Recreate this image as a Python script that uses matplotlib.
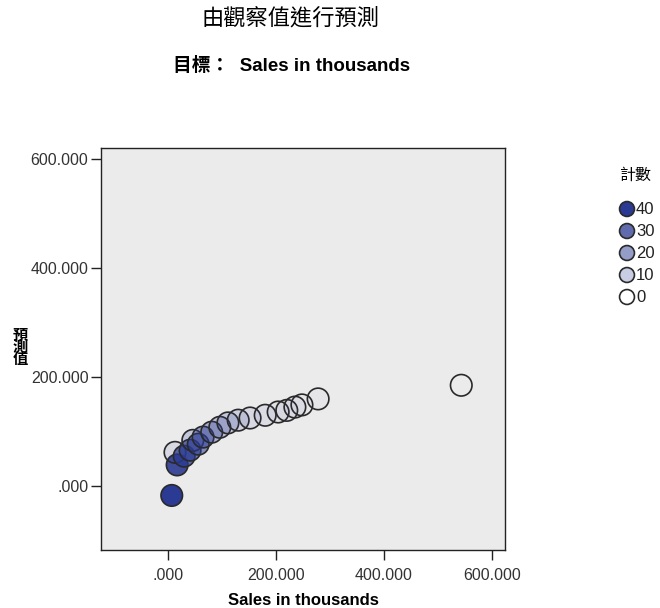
import numpy as np
import matplotlib
matplotlib.use("Agg")
import matplotlib.pyplot as plt
from matplotlib.colors import to_rgba

plt.rcParams['font.family'] = ['Liberation Sans', 'Noto Sans CJK TC', 'DejaVu Sans']

# observed sales, predicted value, count per point
observed = [7, 17, 13, 30, 41, 46, 56, 65, 81, 96, 111, 130, 152, 180, 204, 220, 235, 248, 278, 543]
predicted = [-17, 39, 62, 55, 66, 84, 77, 90, 99, 108, 116, 121, 125, 130, 136, 139, 145, 149, 160, 185]
counts = [40, 36, 4, 30, 26, 8, 22, 18, 14, 10, 8, 6, 4, 3, 2, 2, 2, 1, 1, 0]

legend_counts = [40, 30, 20, 10, 0]
x_ticks = [0, 200, 400, 600]
y_ticks = [0, 200, 400, 600]

blue = "#2b3a93"
edge = "#2a2a2a"

def fill(c):
    # count sets the opacity of the blue fill
    return to_rgba(blue, c / 40)

fig = plt.figure(figsize=(6.6, 6.08), dpi=100)
ax = fig.add_axes([101/660, 58/608, 404/660, 402/608])
ax.set_facecolor("#ebebeb")

ax.scatter(observed, predicted, s=240, facecolors=[fill(c) for c in counts],
           edgecolors=edge, linewidths=1.2, zorder=3)

ax.set_xlim(-124, 624)
ax.set_ylim(-117, 620)

def fmt(v):
    return ".000" if v == 0 else f"{v:.3f}"

ax.set_xticks(x_ticks)
ax.set_xticklabels([fmt(v) for v in x_ticks])
ax.set_yticks(y_ticks)
ax.set_yticklabels([fmt(v) for v in y_ticks])
ax.tick_params(direction="out", length=7, width=1, colors="#222222",
               labelsize=11.5, labelcolor="#333333", top=False, right=False, pad=2)
ax.tick_params(axis="x", pad=6)
for sp in ax.spines.values():
    sp.set_color("#222222")
    sp.set_linewidth(1)

ax.set_xlabel("Sales in thousands", fontsize=12, fontweight="bold", labelpad=7)
fig.text(20/660, 1 - 348/608, "預\n測\n值", fontsize=11, fontweight="bold",
         ha="center", va="center", linespacing=0.85)

fig.text(291/660, 1 - 19/608, "由觀察值進行預測", fontsize=16, fontweight="medium",
         ha="center", va="center")
fig.text(292/660, 1 - 66/608, "目標：  Sales in thousands", fontsize=13.5,
         fontweight="bold", ha="center", va="center")

# legend drawn on a pixel-coordinate overlay
lg = fig.add_axes([0, 0, 1, 1], facecolor="none")
lg.set_xlim(0, 660)
lg.set_ylim(608, 0)
lg.axis("off")
lg.text(620, 175, "計數", fontsize=11.5, ha="left", va="center")
ys = [209 + 22 * i for i in range(len(legend_counts))]
lg.scatter([627] * len(ys), ys, s=115, facecolors=[fill(c) for c in legend_counts],
           edgecolors=edge, linewidths=1.2)
for y, c in zip(ys, legend_counts):
    lg.text(636, y, str(c), fontsize=12, ha="left", va="center", color="#222222")

fig.savefig("out.png", dpi=100)
